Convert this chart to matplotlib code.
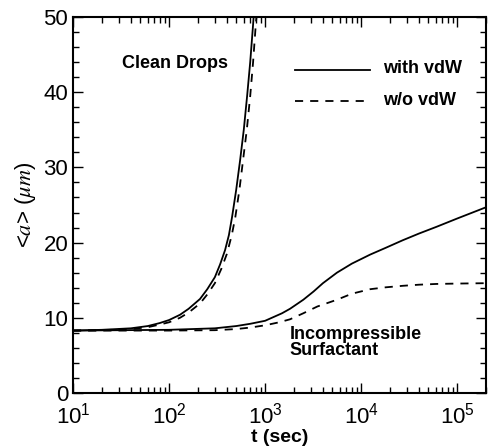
import matplotlib
matplotlib.use("Agg")
import matplotlib.pyplot as plt
from matplotlib.ticker import LogLocator, MultipleLocator

plt.rcParams['font.family'] = ['Liberation Sans', 'DejaVu Sans']
plt.rcParams['mathtext.fontset'] = 'stix'

# Clean drops, with / without vdW
clean_t_vdw = [10, 20, 40, 60, 80, 100, 130, 160, 210, 250, 300, 340, 383, 420, 453, 500,
               550, 600, 650, 700, 750, 780]
clean_a_vdw = [8.3, 8.4, 8.6, 8.9, 9.3, 9.7, 10.4, 11.2, 12.5, 13.8, 15.4, 17.1, 19.0, 21.0,
               23.4, 27.0, 31.0, 35.0, 39.5, 44.0, 49.0, 52.0]
clean_t_novdw = [10, 20, 40, 60, 80, 100, 130, 160, 210, 250, 300, 350, 400, 450, 490, 540,
                 590, 645, 700, 750, 800, 840]
clean_a_novdw = [8.3, 8.35, 8.5, 8.75, 9.1, 9.4, 10.0, 10.7, 11.9, 13.1, 14.6, 16.5, 18.5,
                 21.0, 23.4, 27.0, 31.0, 35.0, 39.5, 44.0, 49.0, 52.0]

# Incompressible surfactant, with / without vdW
surf_t_vdw = [10, 100, 300, 500, 700, 1000, 1500, 1820, 2500, 3200, 4000, 5600, 8000, 12400,
              18000, 27000, 40000, 61000, 100000, 200000]
surf_a_vdw = [8.3, 8.4, 8.6, 8.9, 9.2, 9.6, 10.6, 11.2, 12.4, 13.5, 14.6, 16.0, 17.2, 18.4,
              19.3, 20.3, 21.2, 22.1, 23.2, 24.7]
surf_t_novdw = [10, 100, 300, 500, 700, 1000, 1400, 1820, 2500, 3500, 5600, 8000, 12400, 18000,
                27000, 40000, 61000, 100000, 200000]
surf_a_novdw = [8.3, 8.3, 8.35, 8.5, 8.7, 9.0, 9.4, 9.8, 10.6, 11.5, 12.4, 13.2, 13.8, 14.05,
                14.25, 14.4, 14.5, 14.55, 14.6]

dash = (4.5, 3.9)

fig = plt.figure(figsize=(4.9, 4.48), dpi=100)
ax = fig.add_axes([0.149, 0.1228, 0.843, 0.8393])

ax.plot(clean_t_vdw, clean_a_vdw, color='k', lw=1.3)
ax.plot(clean_t_novdw, clean_a_novdw, color='k', lw=1.3, dashes=dash)
ax.plot(surf_t_vdw, surf_a_vdw, color='k', lw=1.3)
ax.plot(surf_t_novdw, surf_a_novdw, color='k', lw=1.3, dashes=dash)

ax.set_xscale('log')
ax.set_xlim(10, 2e5)
ax.set_ylim(0, 50)

ax.yaxis.set_major_locator(MultipleLocator(10))
ax.yaxis.set_minor_locator(MultipleLocator(2))
ax.xaxis.set_major_locator(LogLocator(base=10, numticks=10))
ax.xaxis.set_minor_locator(LogLocator(base=10, subs=range(2, 10), numticks=20))

ax.tick_params(which='both', direction='in', top=True, right=True, width=1)
ax.tick_params(which='major', length=7, labelsize=16)
ax.tick_params(axis='x', which='major', pad=7)
ax.tick_params(which='minor', length=4)
for s in ax.spines.values():
    s.set_linewidth(1.5)

ax.set_xlabel('t (sec)', fontsize=14, fontweight='bold', labelpad=0)
ax.set_ylabel(r'<$a$> ($\mu m$)', fontsize=16, labelpad=4)

ax.text(0.248, 0.875, 'Clean Drops', transform=ax.transAxes, fontsize=13,
        fontweight='bold', ha='center', va='center')
ax.text(0.525, 0.135, 'Incompressible\nSurfactant', transform=ax.transAxes,
        fontsize=13, fontweight='bold', ha='left', va='center', linespacing=0.95)

# legend drawn by hand, in axes fraction
ax.plot([0.537, 0.719], [0.859, 0.859], color='k', lw=1.3, transform=ax.transAxes)
ax.plot([0.537, 0.719], [0.777, 0.777], color='k', lw=1.3, dashes=dash,
        transform=ax.transAxes)
ax.text(0.75, 0.862, 'with vdW', transform=ax.transAxes, fontsize=13,
        fontweight='bold', va='center')
ax.text(0.75, 0.777, 'w/o vdW', transform=ax.transAxes, fontsize=13,
        fontweight='bold', va='center')

fig.savefig('out.png', dpi=100)
